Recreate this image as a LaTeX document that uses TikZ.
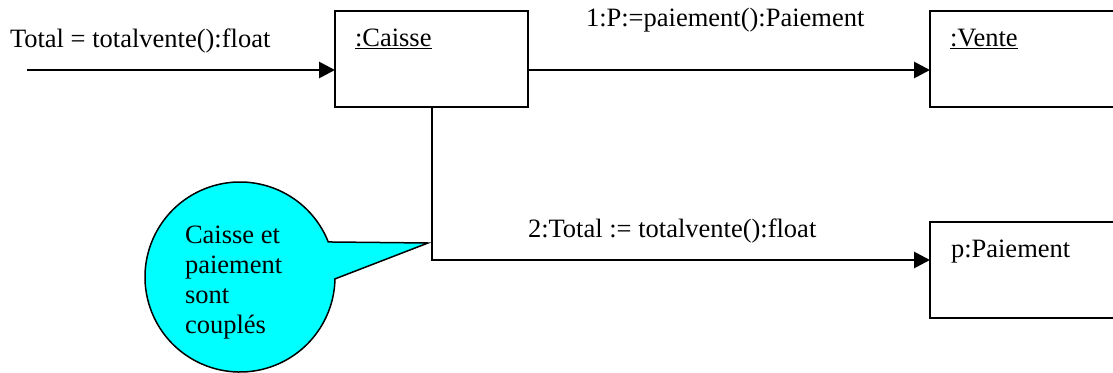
\documentclass[tikz,border=0pt]{standalone}
\usepackage{fontspec}
\setmainfont{Liberation Serif}
\usetikzlibrary{arrows.meta,shapes.callouts}
\definecolor{calloutcyan}{RGB}{0,255,255}
\begin{document}
\begin{tikzpicture}[x=1pt,y=-1pt,
  every node/.style={inner sep=0pt, outer sep=0pt},
  txt/.style={font=\fontsize{26.5}{30}\selectfont, anchor=base west},
  objbox/.style={draw, line width=1.9pt, rectangle, minimum height=96pt},
  thinline/.style={line width=1.2pt},
  thickline/.style={line width=2.8pt},
  midline/.style={line width=2pt},
  tip/.style={-{Triangle[length=16pt,width=16pt]}}
]
\useasboundingbox (0,0) rectangle (1113,372);
\clip (0,0) rectangle (1113,372);

% object boxes
\node[objbox, minimum width=193pt] (caisse) at (431.5,59) {};
\node[objbox, minimum width=220pt] (vente) at (1040,59) {};
\node[objbox, minimum width=220pt] (paiement) at (1040,270) {};

\node[txt] (lcaisse) at (355,46) {\underline{:Caisse}};
\node[txt] (lvente) at (950,46) {\underline{:Vente}};
\node[txt] (lpaiement) at (951,257) {p:Paiement};

% messages
\node[txt] (m0) at (10,47) {Total = totalvente():float};
\node[txt] (m1) at (586,27) {1:P:=paiement():Paiement};
\node[txt] (m2) at (528,237) {2:Total := totalvente():float};

% incoming message
\coordinate (src) at (27,70);
\coordinate (srcmid) at (297,70);
\draw[thinline] (src) -- (srcmid);
\draw[thickline, tip] (srcmid) -- (srcmid -| caisse.west);

% Caisse -> Vente
\draw[thickline, tip] (caisse.east |- src) -- (vente.west |- src);

% Caisse -> Paiement
\coordinate (corner) at (caisse.south |- 0,260);
\coordinate (a1) at (508,260);
\coordinate (a2) at (893,260);
\draw[midline] (caisse.south) -- (corner) -- (a1);
\draw[thinline] (a1) -- (a2);
\draw[thickline, tip] (a2) -- (a2 -| paiement.west);

% callout
\coordinate (ctip) at (428,243);
\node[ellipse callout, draw, line width=1.5pt, fill=calloutcyan,
      minimum width=190pt, minimum height=190pt,
      callout absolute pointer={(ctip)}, callout pointer arc=22.8] (note) at (240,277) {};
\node[anchor=north west, align=left, font=\fontsize{26.5}{30}\selectfont]
  (notetext) at (185,226) {Caisse et\\paiement\\sont\\couplés};
\end{tikzpicture}
\end{document}
